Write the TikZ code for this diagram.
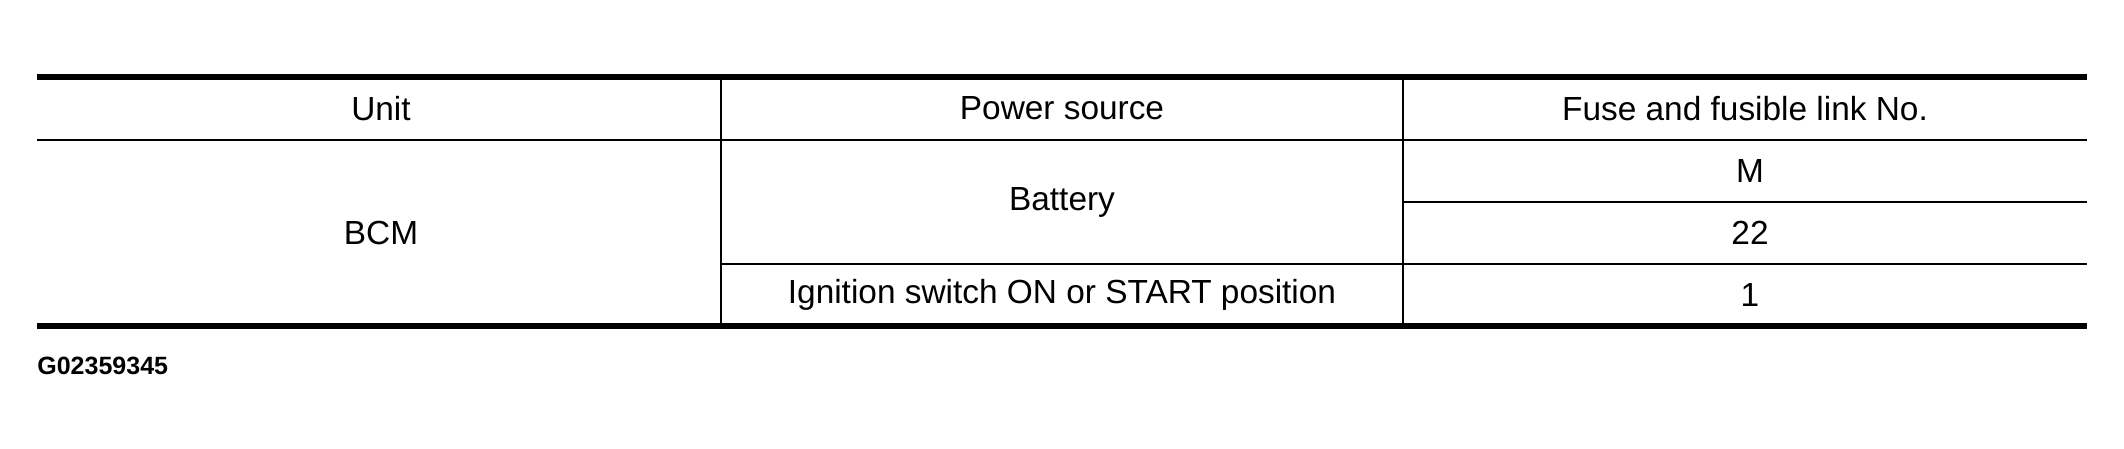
\documentclass[tikz,border=0pt]{standalone}
\usepackage{fontspec}
\setmainfont{Liberation Sans}
\begin{document}
\begin{tikzpicture}[x=0.5pt,y=-0.5pt,
  cell/.style={inner sep=0pt,font=\fontsize{16.7pt}{19pt}\selectfont},
  thickrule/.style={line width=3pt},
  midrule/.style={line width=1.25pt},
  thinrule/.style={line width=1pt},
  hairrule/.style={line width=0.75pt}]
\useasboundingbox (0,0) rectangle (2124,449);
% rules
\draw[thickrule] (37,77.5) -- (2087,77.5);
\draw[thickrule] (37,326) -- (2087,326);
\draw[midrule] (37,140) -- (2087,140);
\draw[midrule] (721,264) -- (2087,264);
\draw[hairrule] (1403,202) -- (2087,202);
\draw[thinrule] (721,77.5) -- (721,326);
\draw[thinrule] (1403,77.5) -- (1403,326);
% texts
\node[cell] (hunit) at (381,108.5) {Unit};
\node[cell] (hpower) at (1062,108.5) {Power source};
\node[cell] (hfuse) at (1745,108.5) {Fuse and fusible link No.};
\node[cell] (bcm) at (381,233) {BCM};
\node[cell] (batt) at (1062,202) {Battery};
\node[cell] (ign) at (1062,295) {Ignition switch ON or START position};
\node[cell] (fm) at (1750,171) {M};
\node[cell] (f22) at (1750,233) {22};
\node[cell] (f1) at (1750,295) {1};
\node[inner sep=0pt,anchor=west,font=\fontsize{12.5pt}{14pt}\selectfont\bfseries] (code) at (37,366) {G02359345};
\end{tikzpicture}
\end{document}
